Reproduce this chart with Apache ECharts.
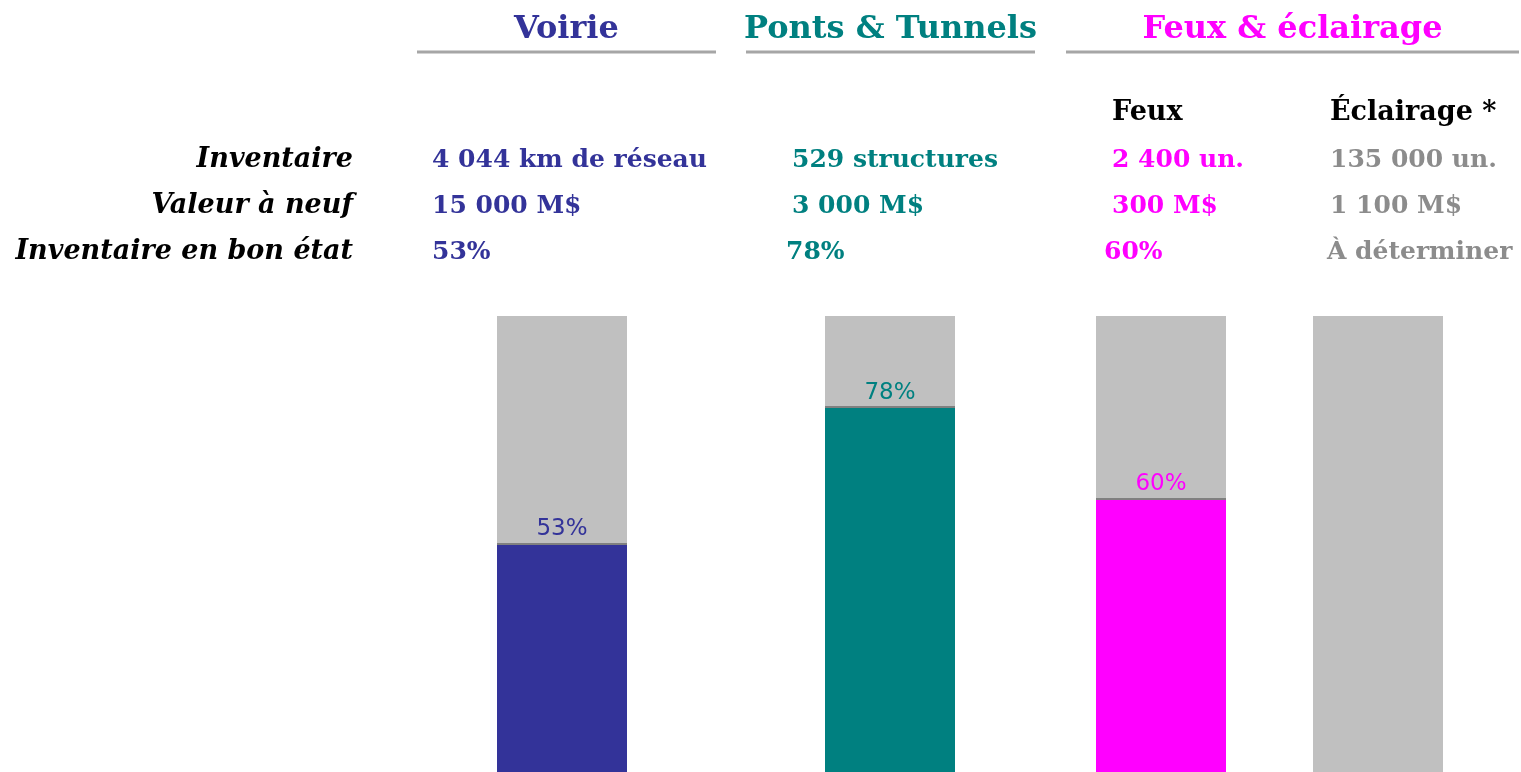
<!DOCTYPE html>
<html>
<head>
<meta charset="utf-8">
<script src="https://cdn.jsdelivr.net/npm/echarts@6/dist/echarts.min.js"></script>
<style>
  html, body { margin: 0; padding: 0; background: #fff; }
  #chart { width: 1521px; height: 772px; }
</style>
</head>
<body>
<div id="chart"></div>
<script>
// data
var categories = ['Voirie', 'Ponts & Tunnels', 'Feux', 'Éclairage *'];
var groupTitles = ['Voirie', 'Ponts & Tunnels', 'Feux & éclairage'];
var subHeaders = ['', '', 'Feux', 'Éclairage *'];
var rowLabels = ['Inventaire', 'Valeur à neuf', 'Inventaire en bon état'];
var inventaire = ['4 044 km de réseau', '529 structures', '2 400 un.', '135 000 un.'];
var valeurNeuf = ['15 000 M$', '3 000 M$', '300 M$', '1 100 M$'];
var bonEtat = ['53%', '78%', '60%', 'À déterminer'];
var goodShare = [50, 80, 60, 0];      // coloured part, as drawn
var barLabels = ['53%', '78%', '60%', ''];
var totals = [100, 100, 100, 100];

var colors = ['#333399', '#008080', '#FF00FF', '#8C8C8C'];
var groupColors = ['#333399', '#008080', '#FF00FF'];

// layout
var barCenters = [562, 890, 1161, 1378];
var barW = 130;
var textX = [432, 792, 1112, 1330];
var pctX = [432, 786, 1104, 1327];
var rowY = [160, 206, 252];
var groupLines = [[417, 716], [746, 1035], [1066, 1519]];

var serif = '"DejaVu Serif", "Liberation Serif", serif';

var myChart = echarts.init(document.getElementById('chart'));

var grids = [], xAxes = [], yAxes = [], series = [], graphics = [];

categories.forEach(function (cat, i) {
    grids.push({ left: barCenters[i] - barW / 2, width: barW, top: 316, bottom: 0 });
    xAxes.push({ type: 'category', gridIndex: i, data: [cat], show: false });
    yAxes.push({ type: 'value', gridIndex: i, min: 0, max: 100, show: false });
    series.push({
        type: 'bar', xAxisIndex: i, yAxisIndex: i,
        data: [totals[i]], barWidth: barW, silent: true,
        itemStyle: { color: '#C0C0C0' }
    });
    var s = {
        type: 'bar', xAxisIndex: i, yAxisIndex: i,
        data: [goodShare[i]], barWidth: barW, barGap: '-100%', silent: true,
        itemStyle: { color: colors[i] },
        label: {
            show: barLabels[i] !== '', position: 'top', distance: 3,
            formatter: function () { return barLabels[i]; },
            color: colors[i], fontSize: 23, fontFamily: '"DejaVu Sans", Verdana, sans-serif'
        }
    };
    if (goodShare[i] > 0) {
        s.markLine = {
            silent: true, symbol: 'none', label: { show: false },
            lineStyle: { color: '#808080', width: 2, type: 'solid' },
            data: [{ yAxis: goodShare[i] }]
        };
    }
    series.push(s);

    // table columns
    var rows = [inventaire[i], valeurNeuf[i], bonEtat[i]];
    rows.forEach(function (t, r) {
        graphics.push({
            type: 'text', x: r === 2 ? pctX[i] : textX[i], y: rowY[r],
            style: { text: t, fill: colors[i], font: 'bold 25px ' + serif, textVerticalAlign: 'middle' }
        });
    });
    if (subHeaders[i]) {
        graphics.push({
            type: 'text', x: textX[i], y: 113,
            style: { text: subHeaders[i], fill: '#000', font: 'bold 27px ' + serif, textVerticalAlign: 'middle' }
        });
    }
});

rowLabels.forEach(function (t, r) {
    graphics.push({
        type: 'text', x: 353, y: rowY[r],
        style: { text: t, fill: '#000', font: 'italic bold 27px ' + serif, textAlign: 'right', textVerticalAlign: 'middle' }
    });
});

groupTitles.forEach(function (t, g) {
    var a = groupLines[g][0], b = groupLines[g][1];
    graphics.push({
        type: 'text', x: (a + b) / 2, y: 30,
        style: { text: t, fill: groupColors[g], font: 'bold 32px ' + serif, textAlign: 'center', textVerticalAlign: 'middle' }
    });
    graphics.push({
        type: 'line', shape: { x1: a, y1: 52, x2: b, y2: 52 },
        style: { stroke: '#A6A6A6', lineWidth: 3 }
    });
});

myChart.setOption({
    animation: false,
    grid: grids,
    xAxis: xAxes,
    yAxis: yAxes,
    series: series,
    graphic: graphics
});
</script>
</body>
</html>
